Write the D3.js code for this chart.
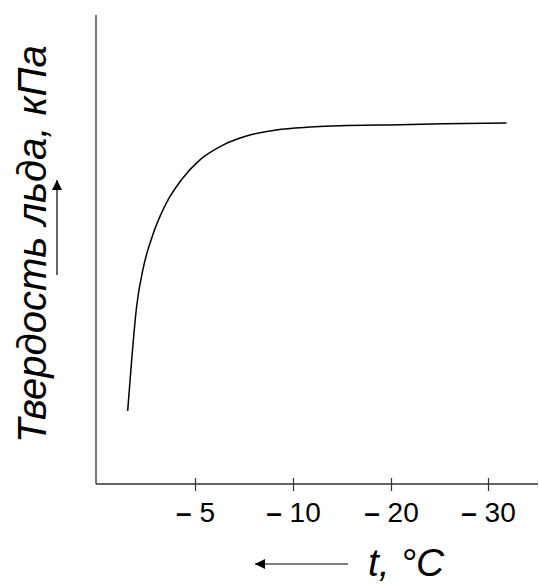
<!DOCTYPE html>
<html>
<head>
<meta charset="utf-8">
<script src="https://cdn.jsdelivr.net/npm/d3@7"></script>
<style>
    body { margin: 0; background: #fff; }
    svg { display: block; }
    text { font-family: "Liberation Sans", Arial, sans-serif; }
</style>
</head>
<body>
<div id="chart"></div>
<script>
// температура, °C (шкала неравномерная: 0, -5, -10, -20, -30)
const tempTicks = [-5, -10, -20, -30];
const scaleStops = [0, -5, -10, -20, -30, -35];

// кривая твердости (условные единицы, 0..100)
const curveTemp = [-1.6, -1.8, -2.05, -2.4, -2.9, -3.55, -4.3, -5.25, -6.45, -7.8, -9.15, -11.75, -14.8, -20.9, -25.4, -31.85];
const curveHard = [15.6, 26.4, 37.8, 46.3, 53.5, 59.9, 64.8, 69.1, 72.3, 74.4, 75.5, 76.1, 76.4, 76.6, 76.8, 77.0];

const yLabel = "Твердость льда, кПа";
const xLabel = "t, °C";

const width = 539;
const height = 584;

const svg = d3.select("#chart")
    .append("svg")
    .attr("width", width)
    .attr("height", height);

svg.append("defs")
    .append("marker")
    .attr("id", "arrow")
    .attr("viewBox", "0 0 10 10")
    .attr("refX", 10)
    .attr("refY", 5)
    .attr("markerWidth", 10)
    .attr("markerHeight", 10)
    .attr("markerUnits", "userSpaceOnUse")
    .attr("orient", "auto")
    .append("path")
    .attr("d", "M0,0 L10,5 L0,10 Z")
    .attr("fill", "#000");

const x = d3.scaleLinear()
    .domain(scaleStops)
    .range([96, 195, 293, 391, 488, 538]);

const y = d3.scaleLinear()
    .domain([0, 100])
    .range([484, 15]);

// оси
svg.append("line")
    .attr("x1", x(0)).attr("x2", x(0))
    .attr("y1", y(0)).attr("y2", y(100))
    .attr("stroke", "#555")
    .attr("stroke-width", 1.6);

svg.append("line")
    .attr("x1", x(0)).attr("x2", x(-35))
    .attr("y1", y(0)).attr("y2", y(0))
    .attr("stroke", "#333")
    .attr("stroke-width", 1.4);

const xAxis = svg.append("g")
    .attr("transform", `translate(0,${y(0)})`)
    .call(d3.axisBottom(x)
        .tickValues(tempTicks)
        .tickFormat(d => Math.abs(d)));

xAxis.select(".domain").remove();
xAxis.selectAll(".tick line")
    .attr("y1", -6)
    .attr("y2", 7)
    .attr("stroke", "#333")
    .attr("stroke-width", 1.2);

// тире делаем жирнее, как в оригинале
xAxis.selectAll(".tick text")
    .attr("y", 37.5)
    .attr("dy", 0)
    .attr("fill", "#000")
    .style("font-size", "28px")
    .style("font-family", "'Liberation Sans', Arial, sans-serif")
    .each(function(d) {
        const t = d3.select(this).text("");
        t.append("tspan").style("font-weight", "bold").text("–");
        t.append("tspan").text(" " + Math.abs(d));
    });

// кривая
const line = d3.line()
    .x(d => x(d[0]))
    .y(d => y(d[1]))
    .curve(d3.curveMonotoneX);

svg.append("path")
    .datum(d3.zip(curveTemp, curveHard))
    .attr("d", line)
    .attr("fill", "none")
    .attr("stroke", "#000")
    .attr("stroke-width", 1.5);

// подписи
svg.append("text")
    .attr("transform", "translate(46,443) rotate(-90)")
    .attr("text-anchor", "start")
    .style("font-size", "40px")
    .style("font-style", "italic")
    .text(yLabel);

svg.append("line")
    .attr("x1", 57).attr("x2", 57)
    .attr("y1", 275).attr("y2", 180)
    .attr("stroke", "#000")
    .attr("stroke-width", 1.2)
    .attr("marker-end", "url(#arrow)");

svg.append("text")
    .attr("x", 368)
    .attr("y", 576)
    .style("font-size", "39px")
    .style("font-style", "italic")
    .text(xLabel);

svg.append("line")
    .attr("x1", 348).attr("x2", 255)
    .attr("y1", 564).attr("y2", 564)
    .attr("stroke", "#000")
    .attr("stroke-width", 1.2)
    .attr("marker-end", "url(#arrow)");
</script>
</body>
</html>
